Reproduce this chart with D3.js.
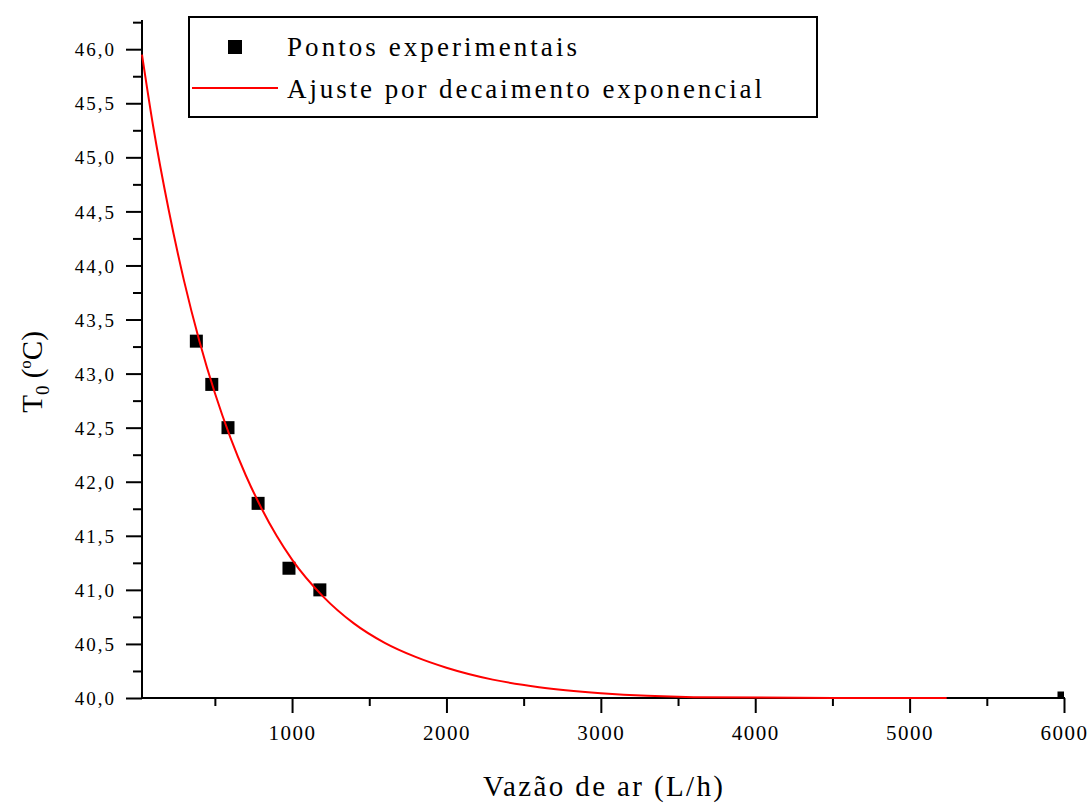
<!DOCTYPE html>
<html>
<head>
<meta charset="utf-8">
<script src="https://cdn.jsdelivr.net/npm/d3@7"></script>
<style>
  html, body { margin: 0; padding: 0; background: #fff; }
  svg { display: block; }
  text { font-family: "Liberation Serif", "DejaVu Serif", serif; fill: #000; }
</style>
</head>
<body>
<svg id="chart" width="1091" height="804"></svg>
<script>
// Experimental points: air flow (L/h) vs outlet temperature T0 (°C)
const flowPoints = [380, 480, 585, 780, 980, 1180, 6000];
const tempPoints = [43.30, 42.90, 42.50, 41.80, 41.20, 41.00, 40.00];

// Exponential decay fit, sampled along the flow axis
const fitFlow = [28, 100, 200, 300, 400, 500, 600, 700, 800, 900, 1000, 1200, 1400,
                 1600, 1800, 2000, 2300, 2600, 3000, 3300, 3600, 4500, 5240];
const fitTemp = [45.95, 45.29, 44.52, 43.86, 43.30, 42.82, 42.41, 42.06, 41.76, 41.50,
                 41.28, 40.94, 40.69, 40.51, 40.38, 40.28, 40.17, 40.10, 40.045, 40.02,
                 40.008, 40.00, 40.00];

// Axis ticks
const xMajorTicks = [1000, 2000, 3000, 4000, 5000, 6000];
const xMinorTicks = [500, 1500, 2500, 3500, 4500, 5500];
const yMajorTicks = [40.0, 40.5, 41.0, 41.5, 42.0, 42.5, 43.0, 43.5, 44.0, 44.5, 45.0, 45.5, 46.0];
const yMinorTicks = [40.25, 40.75, 41.25, 41.75, 42.25, 42.75, 43.25, 43.75, 44.25, 44.75, 45.25, 45.75, 46.25];

const legendLabels = ["Pontos experimentais", "Ajuste por decaimento exponencial"];
const xTitle = "Vazão de ar (L/h)";

const svg = d3.select("#chart");
const plotLeft = 142, plotRight = 1064, plotTop = 20, plotBottom = 698;

const x = d3.scaleLinear().domain([28, 6000]).range([plotLeft, plotRight]);
const y = d3.scaleLinear().domain([40, 46.27]).range([plotBottom, plotTop]);

const fmtY = v => d3.format(".1f")(v).replace(".", ",");

// Plot area clip for markers
svg.append("defs").append("clipPath").attr("id", "plotClip")
  .append("rect").attr("x", plotLeft).attr("y", plotTop)
  .attr("width", plotRight - plotLeft).attr("height", plotBottom - plotTop);

// Y axis (major + minor)
const yAxisMajor = d3.axisLeft(y).tickValues(yMajorTicks).tickSize(16).tickPadding(10)
  .tickFormat(fmtY);
const yAxisMinor = d3.axisLeft(y).tickValues(yMinorTicks).tickSize(9).tickFormat("");

const gy = svg.append("g").attr("transform", `translate(${plotLeft},0)`);
gy.call(yAxisMajor);
gy.append("g").call(yAxisMinor);
gy.selectAll(".domain").remove();
gy.append("line").attr("x1", 0).attr("x2", 0).attr("y1", plotTop).attr("y2", plotBottom + 1)
  .attr("stroke", "#000").attr("stroke-width", 2);
gy.selectAll(".tick line").attr("stroke", "#000").attr("stroke-width", 2);
gy.selectAll(".tick text")
  .style("font-family", "'Liberation Serif', serif")
  .style("font-size", "19px").attr("letter-spacing", "2px").attr("dy", "0.35em");

// X axis (major + minor)
const xAxisMajor = d3.axisBottom(x).tickValues(xMajorTicks).tickSize(15).tickPadding(12)
  .tickFormat(d3.format("d"));
const xAxisMinor = d3.axisBottom(x).tickValues(xMinorTicks).tickSize(8).tickFormat("");

const gx = svg.append("g").attr("transform", `translate(0,${plotBottom})`);
gx.call(xAxisMajor);
gx.append("g").call(xAxisMinor);
gx.selectAll(".domain").remove();
gx.append("line").attr("x1", plotLeft - 1).attr("x2", plotRight + 1).attr("y1", 0).attr("y2", 0)
  .attr("stroke", "#000").attr("stroke-width", 2);
gx.selectAll(".tick line").attr("stroke", "#000").attr("stroke-width", 2);
gx.selectAll(".tick text")
  .style("font-family", "'Liberation Serif', serif")
  .style("font-size", "21px").attr("letter-spacing", "1.5px");

// Experimental markers
svg.append("g").attr("clip-path", "url(#plotClip)")
  .selectAll("rect").data(flowPoints.map((f, i) => [f, tempPoints[i]]))
  .join("rect")
  .attr("x", d => x(d[0]) - 6.5).attr("y", d => y(d[1]) - 6.5)
  .attr("width", 13).attr("height", 13).attr("fill", "#000");

// Exponential fit curve
const line = d3.line().x(d => x(d[0])).y(d => y(d[1])).curve(d3.curveMonotoneX);
svg.append("path")
  .datum(fitFlow.map((f, i) => [f, fitTemp[i]]))
  .attr("d", line).attr("fill", "none").attr("stroke", "#ff0000").attr("stroke-width", 2);

// Legend
const lg = svg.append("g");
lg.append("rect").attr("x", 189).attr("y", 17).attr("width", 628).attr("height", 100)
  .attr("fill", "#fff").attr("stroke", "#000").attr("stroke-width", 2);
lg.append("rect").attr("x", 228).attr("y", 40).attr("width", 14).attr("height", 14).attr("fill", "#000");
lg.append("line").attr("x1", 192).attr("x2", 278).attr("y1", 88).attr("y2", 88)
  .attr("stroke", "#ff0000").attr("stroke-width", 2);
lg.append("text").attr("x", 287).attr("y", 56).style("font-size", "27px")
  .attr("textLength", 290).attr("lengthAdjust", "spacing").text(legendLabels[0]);
lg.append("text").attr("x", 287).attr("y", 98).style("font-size", "27px")
  .attr("textLength", 475).attr("lengthAdjust", "spacing").text(legendLabels[1]);

// X axis title
svg.append("text").attr("x", 603).attr("y", 796).attr("text-anchor", "middle")
  .style("font-size", "29px").attr("textLength", 240).attr("lengthAdjust", "spacing")
  .text(xTitle);

// Y axis title: T0 (°C) with subscript and superscript
const yt = svg.append("text").attr("transform", "translate(42,372) rotate(-90)")
  .attr("text-anchor", "middle").style("font-size", "29px");
yt.append("tspan").text("T");
yt.append("tspan").attr("dy", 7).style("font-size", "19px").text("0");
yt.append("tspan").attr("dy", -7).text(" (");
yt.append("tspan").attr("dy", -11).style("font-size", "17px").text("o");
yt.append("tspan").attr("dy", 11).text("C)");
</script>
</body>
</html>
